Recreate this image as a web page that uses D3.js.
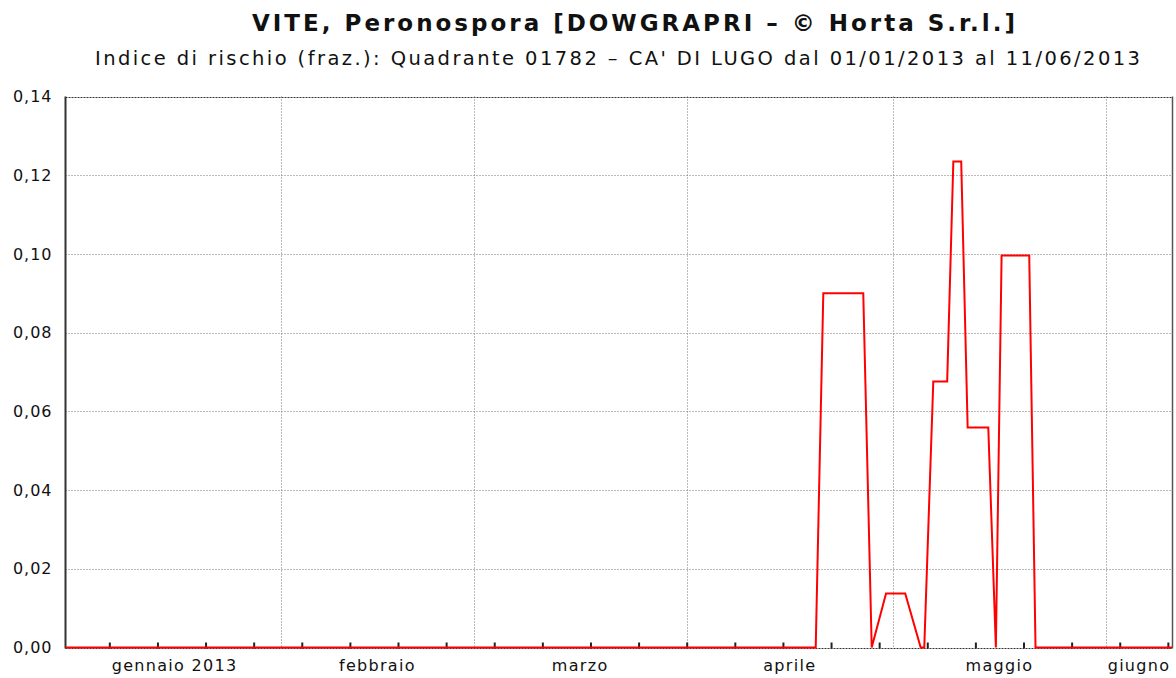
<!DOCTYPE html>
<html>
<head>
<meta charset="utf-8">
<script src="https://cdn.jsdelivr.net/npm/d3@7"></script>
<style>
  html, body { margin: 0; padding: 0; background: #fff; }
  svg { display: block; }
</style>
</head>
<body>
<svg id="chart" width="1176" height="678"></svg>
<script>
// ---- data ----
const titleText = "VITE, Peronospora [DOWGRAPRI \u2013 \u00A9 Horta S.r.l.]";
const subtitleText = "Indice di rischio (fraz.): Quadrante 01782 \u2013 CA' DI LUGO dal 01/01/2013 al 11/06/2013";
const xDomain = ["2012-12-31T15:00:00Z", "2013-06-10T14:30:00Z"];
const monthStarts = ["2013-01-01", "2013-02-01", "2013-03-01", "2013-04-01", "2013-05-01", "2013-06-01", "2013-07-01"];
const monthLabels = ["gennaio 2013", "febbraio", "marzo", "aprile", "maggio", "giugno"];
const yTicks = [0, 0.02, 0.04, 0.06, 0.08, 0.10, 0.12, 0.14];
const riskDates = [
  "2012-12-31T15:00", "2013-04-19T18:30", "2013-04-20T21:00", "2013-04-26T16:30",
  "2013-04-27T22:00", "2013-04-30T00:00", "2013-05-02T19:00", "2013-05-05T01:00",
  "2013-05-05T13:30", "2013-05-06T21:00", "2013-05-08T21:30", "2013-05-09T19:00",
  "2013-05-10T22:30", "2013-05-11T21:00", "2013-05-14T21:00", "2013-05-15T23:30",
  "2013-05-16T19:30", "2013-05-20T20:00", "2013-05-21T18:00", "2013-06-10T14:30"
];
const riskValues = [
  0, 0, 0.09, 0.09,
  0, 0.0137, 0.0137, 0,
  0, 0.0676, 0.0676, 0.1235,
  0.1235, 0.0559, 0.0559, 0,
  0.0996, 0.0996, 0, 0
];

(function () {
// ---- layout ----
const pL = 65.5, pR = 1172, pT = 96.5, pB = 647.5;
const svg = d3.select("#chart");
const parseUtc = s => new Date(s.endsWith("Z") ? s : s + (s.length > 10 ? ":00Z" : "T00:00:00Z"));

const x = d3.scaleUtc().domain(xDomain.map(parseUtc)).range([pL, pR]);
const y = d3.scaleLinear().domain([0, 0.14]).range([pB, pT]);

// title
svg.append("text")
  .attr("x", 633.5).attr("y", 31)
  .attr("text-anchor", "middle")
  .attr("font-family", "DejaVu Sans").attr("font-weight", "bold").attr("font-size", 23)
  .attr("fill", "#111")
  .attr("textLength", 763).attr("lengthAdjust", "spacing")
  .text(titleText);
svg.append("text")
  .attr("x", 617.5).attr("y", 65)
  .attr("text-anchor", "middle")
  .attr("font-family", "DejaVu Sans").attr("font-size", 19.5)
  .attr("fill", "#111")
  .attr("textLength", 1045).attr("lengthAdjust", "spacing")
  .text(subtitleText);

// horizontal grid
const yTickFmt = v => d3.format(".2f")(v).replace(".", ",");
const last = yTicks.length - 1;
svg.append("g")
  .selectAll("line").data(yTicks).join("line")
  .attr("x1", pL).attr("x2", pR)
  .attr("y1", d => Math.round(y(d)) + 0.5).attr("y2", d => Math.round(y(d)) + 0.5)
  .attr("stroke", (d, i) => (i === 0 || i === last) ? "#333" : "#777")
  .attr("stroke-width", 1)
  .attr("stroke-dasharray", (d, i) => (i === 0 || i === last) ? "2,1" : "1,2");

// vertical month grid
const monthDates = monthStarts.map(parseUtc);
const innerMonths = monthDates.filter(d => d > x.domain()[0] && d < x.domain()[1]);
svg.append("g")
  .selectAll("line").data(innerMonths.slice(1)).join("line")
  .attr("x1", d => Math.round(x(d)) + 0.5).attr("x2", d => Math.round(x(d)) + 0.5)
  .attr("y1", pT).attr("y2", pB)
  .attr("stroke", "#777").attr("stroke-width", 1).attr("stroke-dasharray", "1,2");

// weekly ticks (upward)
const xAxis = d3.axisBottom(x)
  .tickValues(d3.utcMonday.range(x.domain()[0], x.domain()[1]))
  .tickSize(-6).tickFormat("");
const gx = svg.append("g").attr("transform", `translate(0,${pB + 1})`).call(xAxis);
gx.select(".domain").remove();
gx.selectAll(".tick line").attr("stroke", "#222").attr("stroke-width", 2);

// month labels
const monthMid = monthLabels.map((lab, i) => {
  const a = Math.max(+monthDates[i], +x.domain()[0]);
  const b = Math.min(+monthDates[i + 1], +x.domain()[1]);
  return { lab, xm: (x(new Date(a)) + x(new Date(b))) / 2 };
});
svg.append("g").selectAll("text").data(monthMid).join("text")
  .attr("x", d => d.xm).attr("y", 671)
  .attr("text-anchor", "middle")
  .attr("font-family", "DejaVu Sans").attr("font-size", 16)
  .attr("letter-spacing", 1.3)
  .attr("fill", "#111")
  .text(d => d.lab);

// y axis labels
const yAxis = d3.axisLeft(y).tickValues(yTicks).tickFormat(yTickFmt).tickSize(0).tickPadding(13);
const gy = svg.append("g").attr("transform", `translate(${pL},0)`).call(yAxis);
gy.select(".domain").remove();
gy.selectAll(".tick text")
  .attr("font-family", "DejaVu Sans").attr("font-size", 16)
  .attr("letter-spacing", 1).attr("fill", "#111");

// left / right axis lines
svg.append("line").attr("x1", pL).attr("x2", pL).attr("y1", pT).attr("y2", pB + 1)
  .attr("stroke", "#333").attr("stroke-width", 2);
svg.append("line").attr("x1", pR + 0.5).attr("x2", pR + 0.5).attr("y1", pT).attr("y2", pB + 1)
  .attr("stroke", "#555").attr("stroke-width", 1.5);

// series
const series = riskDates.map((d, i) => ({ t: parseUtc(d), v: riskValues[i] }));
svg.append("path").datum(series)
  .attr("fill", "none").attr("stroke", "#ff0000").attr("stroke-width", 2)
  .attr("stroke-linejoin", "miter")
  .attr("d", d3.line().x(d => x(d.t)).y(d => y(d.v)));
})();
</script>
</body>
</html>
